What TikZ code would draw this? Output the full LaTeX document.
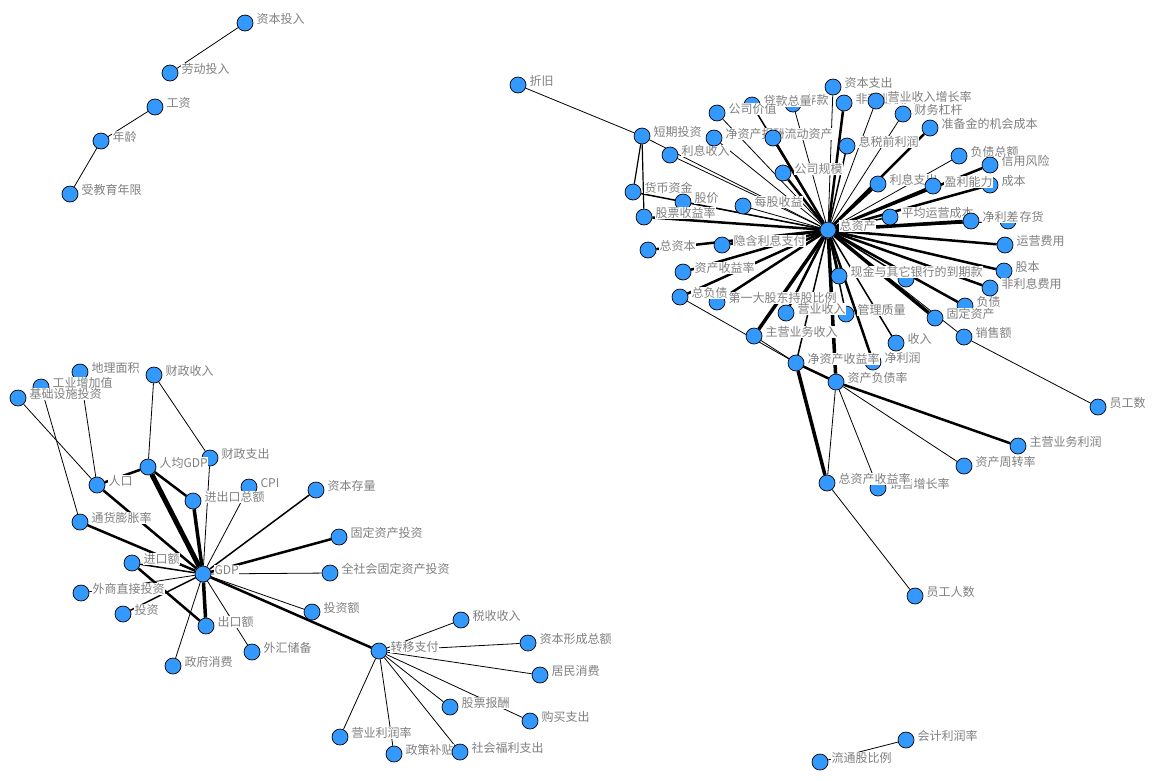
\documentclass[tikz,border=0pt]{standalone}
\usepackage{fontspec}
\setmainfont{Noto Sans CJK SC}
\pgfdeclarelayer{bg}
\pgfdeclarelayer{paper}
\pgfsetlayers{paper,bg,main}
\definecolor{nblue}{RGB}{51,153,255}
\definecolor{lgray}{RGB}{128,128,128}
\tikzset{
  v/.style={circle, draw=black, line width=0.7pt, fill=nblue, minimum size=16pt, inner sep=0pt},
  lb/.style={text=lgray, fill=white, inner sep=0.4pt, font=\fontsize{12}{12}\selectfont, yshift=4pt},
  every label/.style={lb},
  label distance=2.6pt,
  e1/.style={draw=black, line width=0.8pt},
  e2/.style={draw=black, line width=1.5pt},
  e3/.style={draw=black, line width=2.5pt},
  e4/.style={draw=black, line width=3.5pt},
  e5/.style={draw=black, line width=5pt},
}
\begin{document}
\begin{tikzpicture}[x=1pt, y=-1pt]
\begin{pgfonlayer}{paper}
\fill[white] (0,0) rectangle (1155,780);
\end{pgfonlayer}
\useasboundingbox (0,0) rectangle (1155,780);

% ---------- top-left group ----------
\node[v, label=right:资本投入] (zbtr) at (245,23) {};
\node[v, label=right:劳动投入] (ldtr) at (170,73) {};
\node[v, label=right:工资] (gz) at (155,107) {};
\node[v, label=right:年龄] (nl) at (101,141) {};
\node[v, label=right:受教育年限] (jy) at (70,194) {};

% ---------- right cluster ----------
\node[v, label=right:折旧] (zj) at (518,85) {};
\node[v, label=right:短期投资] (dq) at (642,136) {};
\node[v, label=right:利息收入] (lx) at (670,155) {};
\node[v, label=right:货币资金] (hb) at (633,192) {};
\node[v, label=right:股价] (gj) at (683,202) {};
\node[v, label=right:股票收益率] (gs) at (644,217) {};
\node[v, label=right:每股收益] (mg) at (743,206) {};
\node[v, label=right:存款] (ck) at (793,104) {};
\node[v, label=right:贷款总量] (dk) at (752,105) {};
\node[v, label=right:公司价值] (gv) at (717,113) {};
\node[v, label=right:净资产报酬率] (jb) at (714,138) {};
\node[v, label=right:流动资产] (ld) at (773,138) {};
\node[v, label=right:公司规模] (gm) at (783,173) {};
\node[v, label=right:资本支出] (zb) at (833,87) {};
\node[v, label=right:非营业收入] (fy) at (844,103) {};
\node[v, label=right:营业收入增长率] (yz) at (876,101) {};
\node[v, label=right:财务杠杆] (cw) at (903,114) {};
\node[v, label=right:准备金的机会成本] (zbj) at (930,128) {};
\node[v, label=right:息税前利润] (xs) at (847,146) {};
\node[v, label=right:负债总额] (fz) at (959,156) {};
\node[v, label=right:信用风险] (xy) at (990,165) {};
\node[v, label=right:利息支出] (lz) at (878,184) {};
\node[v, label=right:成本] (cb) at (990,185) {};
\node[v, label=right:盈利能力] (yl) at (933,186) {};
\node[v, label=right:平均运营成本] (py) at (890,217) {};
\node[v, label=right:存货] (ch) at (1008,221) {};
\node[v, label=right:净利差] (jl) at (971,221) {};
\node[v, label=right:运营费用] (yf) at (1005,245) {};
\node[v, label=right:股本] (gb) at (1004,271) {};
\node[v, label=right:负债] (fd) at (965,306) {};
\node[v, label=right:非利息费用] (fl) at (990,288) {};
\node[v, label=right:固定资产] (gd) at (935,318) {};
\node[v, label=right:销售额] (xe) at (964,337) {};
\node[v, label=right:员工数] (yg) at (1098,407) {};
\node[v] (hn) at (906,279) {};
\node[v, label=right:现金与其它银行的到期款] (xj) at (839,276) {};
\node[v, label=right:管理质量] (gl) at (846,314) {};
\node[v, label=right:收入] (sr) at (896,343) {};
\node[v, label=right:净利润] (jlr) at (873,362) {};
\node[v, label=right:总资本] (zzb) at (648,250) {};
\node[v, label=right:隐含利息支付] (yh) at (722,245) {};
\node[v, label=right:资产收益率] (zs) at (683,272) {};
\node[v, label=right:第一大股东持股比例] (dy) at (717,302) {};
\node[v, label=right:总负债] (zfz) at (680,297) {};
\node[v, label=right:营业收入] (ys) at (786,313) {};
\node[v, label=right:主营业务收入] (zy) at (754,336) {};
\node[v, label=right:净资产收益率] (jz) at (796,363) {};
\node[v, label=right:资产负债率] (zf) at (836,382) {};
\node[v, label=right:销售增长率] (xz) at (878,488) {};
\node[v, label=right:总资产收益率] (zsy) at (827,483) {};
\node[v, label=right:资产周转率] (zz) at (964,466) {};
\node[v, label=right:主营业务利润] (zl) at (1018,446) {};
\node[v, label=right:员工人数] (yr) at (915,596) {};
\node[v, label=right:总资产] (zc) at (828,230) {};
\node[v, label=right:流通股比例] (lt) at (820,762) {};
\node[v, label=right:会计利润率] (kj) at (906,740) {};

% ---------- left cluster ----------
\node[v, label=right:地理面积] (dl) at (80,372) {};
\node[v, label=right:工业增加值] (gy) at (41,387) {};
\node[v, label=right:基础设施投资] (jc) at (18,398) {};
\node[v, label=right:财政收入] (cs) at (154,375) {};
\node[v, label=right:财政支出] (cz) at (210,458) {};
\node[v, label=right:人均GDP] (rj) at (148,467) {};
\node[v, label=right:人口] (rk) at (97,485) {};
\node[v, label=right:CPI] (cpi) at (249,487) {};
\node[v, label=right:进出口总额] (jck) at (193,501) {};
\node[v, label=right:资本存量] (zbcl) at (316,490) {};
\node[v, label=right:通货膨胀率] (tp) at (80,522) {};
\node[v, label=right:固定资产投资] (gdtz) at (339,537) {};
\node[v, label=right:进口额] (jk) at (132,563) {};
\node[v, label=right:全社会固定资产投资] (qs) at (330,573) {};
\node[v, label=right:外商直接投资] (ws) at (81,593) {};
\node[v, label=right:投资] (tz) at (123,614) {};
\node[v, label=right:出口额] (cke) at (206,626) {};
\node[v, label=right:投资额] (tze) at (312,612) {};
\node[v, label=right:外汇储备] (wh) at (252,652) {};
\node[v, label=right:政府消费] (zx) at (173,666) {};
\node[v, label=right:GDP] (gdp) at (203,574) {};
\node[v, label=right:税收收入] (ss) at (461,620) {};
\node[v, label=right:资本形成总额] (zbx) at (528,643) {};
\node[v, label=right:居民消费] (jm) at (540,675) {};
\node[v, label=right:股票报酬] (gp) at (450,707) {};
\node[v, label=right:购买支出] (gmz) at (530,721) {};
\node[v, label=right:营业利润率] (yy) at (340,737) {};
\node[v, label=right:政策补贴] (zcb) at (394,754) {};
\node[v, label=right:社会福利支出] (sh) at (460,752) {};
\node[v, label=right:转移支付] (zyz) at (379,651) {};

\begin{pgfonlayer}{bg}
% top-left
\draw[e1] (zbtr) -- (ldtr);
\draw[e1] (gz) -- (nl);
\draw[e1] (nl) -- (jy);
% right cluster spokes
\foreach \n in {dq,lx,gj,mg,gv,jb,ck,zb,yz,cw,fz,ch,xe}
  \draw[e1] (zc) -- (\n);
\foreach \n in {hb,dk,xs,py,hn,gl,sr,jz}
  \draw[e2] (zc) -- (\n);
\foreach \n in {gs,ld,gm,fy,zbj,xy,lz,yl,cb,yf,gb,fl,fd,xj,jlr,ys,dy,zfz,zs,zzb,yh}
  \draw[e3] (zc) -- (\n);
\foreach \n in {jl,gd,zf,zy}
  \draw[e4] (zc) -- (\n);
% right cluster others
\draw[e1] (zj) -- (dq);
\draw[line width=1.2pt] (dq) -- (hb);
\draw[line width=1.2pt] (dq) -- (gs);
\draw[e1] (xe) -- (yg);
\draw[e1] (zfz) -- (jz);
\draw[e1] (zy) -- (jz);
\draw[e3] (jz) -- (zf);
\draw[e4] (jz) -- (zsy);
\draw[e1] (zf) -- (zsy);
\draw[e1] (zf) -- (xz);
\draw[e1] (zf) -- (zz);
\draw[e3] (zf) -- (zl);
\draw[e1] (zsy) -- (yr);
\draw[e1] (lt) -- (kj);
% left cluster
\draw[e1] (jc) -- (rk);
\draw[e1] (gy) -- (tp);
\draw[e1] (dl) -- (rk);
\draw[e1] (cs) -- (rj);
\draw[e1] (cs) -- (cz);
\draw[e1] (cz) -- (gdp);
\draw[e3] (rj) -- (rk);
\draw[e3] (rj) -- (jck);
\draw[e5] (rj) -- (gdp);
\draw[e4] (jck) -- (gdp);
\draw[e3] (rk) -- (gdp);
\draw[e3] (tp) -- (gdp);
\draw[e1] (cpi) -- (gdp);
\draw[e2] (zbcl) -- (gdp);
\draw[e3] (gdtz) -- (gdp);
\draw[e1] (qs) -- (gdp);
\draw[e1] (tze) -- (gdp);
\draw[e3] (zyz) -- (gdp);
\draw[e2] (jk) -- (gdp);
\draw[e3] (jk) -- (cke);
\draw[e1] (ws) -- (gdp);
\draw[e2] (tz) -- (gdp);
\draw[e4] (cke) -- (gdp);
\draw[e1] (gdp) -- (wh);
\draw[e1] (zx) -- (gdp);
\foreach \n in {ss,zbx,jm,gp,gmz,sh,zcb,yy}
  \draw[e1] (zyz) -- (\n);
\end{pgfonlayer}
\end{tikzpicture}
\end{document}
